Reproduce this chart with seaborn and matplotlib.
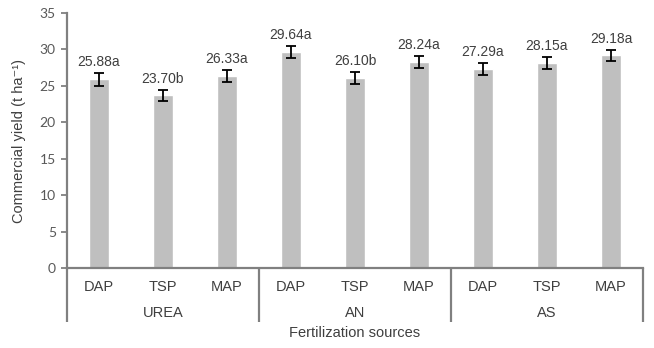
import matplotlib
matplotlib.use("Agg")
import matplotlib.pyplot as plt
import seaborn as sns
import pandas as pd

# Commercial yield by nitrogen source (group) and phosphorus source (bar)
groups = ["UREA", "UREA", "UREA", "AN", "AN", "AN", "AS", "AS", "AS"]
sources = ["DAP", "TSP", "MAP", "DAP", "TSP", "MAP", "DAP", "TSP", "MAP"]
yields = [25.88, 23.70, 26.33, 29.64, 26.10, 28.24, 27.29, 28.15, 29.18]
letters = ["a", "b", "a", "a", "b", "a", "a", "a", "a"]
errors = [0.85, 0.80, 0.85, 0.85, 0.80, 0.80, 0.85, 0.80, 0.80]
group_names = ["UREA", "AN", "AS"]
y_ticks = [0, 5, 10, 15, 20, 25, 30, 35]

sns.set_style("white")
main_font = ["Liberation Sans", "DejaVu Sans"]
plt.rcParams["font.family"] = main_font

df = pd.DataFrame({
    "pos": [f"{g}-{s}" for g, s in zip(groups, sources)],
    "source": sources,
    "group": groups,
    "yield": yields,
})

text_col = "#3f3f3f"
axis_col = "#808080"

fig = plt.figure(figsize=(6.54, 3.48), dpi=100)
ax = fig.add_axes([0.1024, 0.2299, 0.8807, 0.7327])

sns.barplot(data=df, x="pos", y="yield", color="#bfbfbf", width=0.3,
            errorbar=None, saturation=1, ax=ax)
xs = list(range(len(yields)))
ax.errorbar(xs, yields, yerr=errors, fmt="none", ecolor="black",
            elinewidth=1.3, capsize=3.8, capthick=1.3)

for x, v, e, l in zip(xs, yields, errors, letters):
    ax.text(x, v + e + 0.55, f"{v:.2f}{l}", ha="center", va="bottom",
            fontsize=10, color=text_col)

ax.set_xlim(-0.5, len(yields) - 0.5)
ax.set_ylim(0, 35)
ax.set_yticks(y_ticks)
ax.set_yticklabels([str(t) for t in y_ticks], fontfamily=["Lato", "DejaVu Sans"],
                   fontsize=10, color="#595959")
ax.tick_params(axis="y", length=4, width=1.3, color=axis_col, pad=4, left=True)
ax.tick_params(axis="x", length=0, bottom=False, labelbottom=False)
ax.set_xlabel("")
ax.set_ylabel("Commercial yield (t ha\u207b\u00b9)", fontsize=10.5, color=text_col,
              labelpad=10)

for side in ["top", "right"]:
    ax.spines[side].set_visible(False)
for side in ["left", "bottom"]:
    ax.spines[side].set_color(axis_col)
    ax.spines[side].set_linewidth(1.6)
ax.spines["left"].set_bounds(0, 35)

# Category labels below the axis, group labels and separators
trans = ax.get_xaxis_transform()
for x, s in zip(xs, sources):
    ax.text(x, -0.075, s, transform=trans, ha="center", va="center",
            fontsize=10.5, color=text_col, clip_on=False)
for i, g in enumerate(group_names):
    ax.text(3 * i + 1, -0.175, g, transform=trans, ha="center", va="center",
            fontsize=10.5, color=text_col, clip_on=False)
for xb in [-0.5, 2.5, 5.5, 8.5]:
    ax.plot([xb, xb], [0, -0.21], transform=trans, color=axis_col,
            lw=1.6, clip_on=False, solid_capstyle="butt")
ax.text(4, -0.255, "Fertilization sources", transform=trans, ha="center",
        va="center", fontsize=10.5, color=text_col, clip_on=False)

fig.savefig("out.png", dpi=100)
